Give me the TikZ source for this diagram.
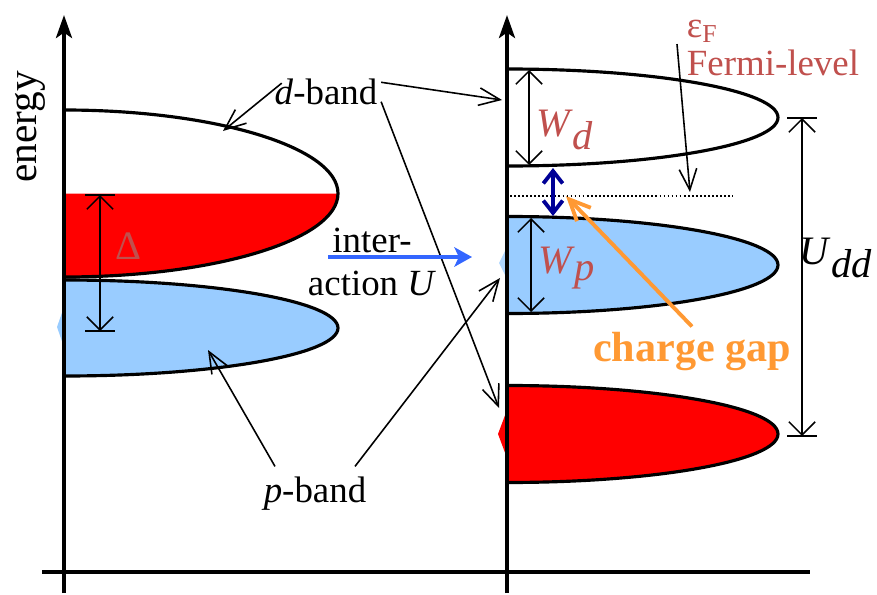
\documentclass[tikz,border=0pt]{standalone}
\usepackage{fontspec}
\setmainfont{Liberation Serif}
\usepackage{xcolor}
\usetikzlibrary{arrows.meta,calc,positioning}
\definecolor{bandred}{RGB}{255,0,0}
\definecolor{bandblue}{RGB}{153,204,255}
\definecolor{labelred}{RGB}{192,80,77}
\definecolor{interblue}{RGB}{51,102,255}
\definecolor{gaporange}{RGB}{255,153,51}
\definecolor{gapnavy}{RGB}{0,0,150}
\tikzset{
 bd axis/.style={line width=2.8pt,-{Stealth[length=13pt,width=9pt,inset=3pt]}},
 bd base/.style={line width=2.8pt},
 bd band/.style={line width=1.8pt},
 bd pointer/.style={line width=0.9pt,-{Straight Barb[length=12pt,width=10pt]}},
 bd width/.style={line width=0.9pt,{Straight Barb[length=7.5pt,width=15pt]}-{Straight Barb[length=7.5pt,width=15pt]}},
 bd bar/.style={line width=1.4pt},
 bd text/.style={font=\fontsize{21pt}{25pt}\selectfont,inner sep=2pt},
 bd sym/.style={font=\fontsize{23pt}{26pt}\selectfont,inner sep=0pt}
}

\begin{document}
\begin{tikzpicture}[x=0.02cm,y=-0.02cm]
 \useasboundingbox (0,0) rectangle (877,595);
 \coordinate (lbot) at (64,593);
 \coordinate (ltop) at (64,15);
 \coordinate (rbot) at (507,593);
 \coordinate (rtop) at (507,15);
 \coordinate (base0) at (42,572);
 \coordinate (base1) at (810,572);

 % left bands (before interaction)
 \draw[bd band,fill=bandblue] (64,280) arc[start angle=-90,end angle=90,x radius=274,y radius=48] -- cycle;
 \fill[bandred] (64,193.5) -- (338,193.5) arc[start angle=0,end angle=90,x radius=274,y radius=83.5] -- cycle;
 \draw[bd band] (64,110) arc[start angle=-90,end angle=90,x radius=274,y radius=83.5];
 \fill[bandblue] (64,307) -- (57,327) -- (64,347) -- cycle;

 % right bands (after interaction)
 \foreach \yc/\col in {117.5/white,265/bandblue,434/bandred}
  \draw[bd band,fill=\col] (507,\yc-48.5) arc[start angle=-90,end angle=90,x radius=271,y radius=48.5] -- cycle;
 \fill[bandblue!80] (507,247) -- (499,263) -- (507,279) -- cycle;
 \fill[bandred] (507,410) -- (498,434) -- (507,458) -- cycle;

 % axes
 \draw[bd axis] (lbot) -- (ltop);
 \draw[bd axis] (rbot) -- (rtop);
 \draw[bd base] (base0) -- (base1);

 % labels
 \node[bd text,rotate=90,font=\fontsize{23.5pt}{26pt}\selectfont] (energy) at (30,127) {energy};
 \node[bd text] (dband) at (326,92) {\textit{d}-band};
 \node[bd text] (pband) at (315,494) {\textit{p}-band};
 \node[bd text,align=center] (inter) at (372,262) {inter-\\action \textit{U}};
 \node[bd text,align=left,text=labelred,anchor=north west,font=\fontsize{21pt}{22pt}\selectfont] (fermi) at (683,16) {ε\textsubscript{F}\\Fermi-level};
 \node[bd sym,text=labelred] (delta) at (128,246) {Δ};
 \node[bd sym,text=labelred] (wd) at (565,130) {\textit{W}$_{\textit{d}}$};
 \node[bd sym,text=labelred] (wp) at (567,268) {\textit{W}$_{\textit{p}}$};
 \node[bd sym] (udd) at (836,258) {\textit{U}$_{\textit{dd}}$};
 \node[font=\bfseries\fontsize{24pt}{28pt}\selectfont,text=gaporange] (gap) at (692,352) {charge gap};

 % pointers from the labels
 \coordinate (ldtip) at (223,131);
 \coordinate (rdtip) at (502,100);
 \coordinate (rrtip) at (499,408);
 \coordinate (lptip) at (208,350);
 \coordinate (rptip) at (500,278);
 \coordinate (eftip) at (690,192);
 \coordinate (gaptip) at (566,196);
 \draw[bd pointer,shorten <=-8pt] (dband.west) -- (ldtip);
 \draw[bd pointer] (dband.10) -- (rdtip);
 \draw[bd pointer] (dband.-10) -- (rrtip);
 \draw[bd pointer] ($(pband.north)+(-40,-7)$) -- (lptip);
 \draw[bd pointer] ($(pband.north)+(40,-7)$) -- (rptip);
 \draw[bd pointer] ($(fermi.west)+(-6,-4)$) -- (eftip);
 \draw[gaporange,line width=2.2pt,-{Straight Barb[length=12pt,width=11pt]}] (gap.north) -- (gaptip);

 % interaction arrow
 \coordinate (ufrom) at (328,257);
 \coordinate (uto) at (472,257);
 \draw[interblue,line width=2.6pt,-{Stealth[length=10pt,width=11pt,inset=2.5pt]}] (ufrom) -- (uto);

 % Fermi level
 \coordinate (ef0) at (510,196);
 \coordinate (ef1) at (733,196);
 \draw[line width=1pt,dash pattern=on 1pt off 1.3pt] (ef0) -- (ef1);

 % widths and gaps
 \coordinate (dl0) at (100,195);
 \coordinate (dl1) at (100,331);
 \draw[bd width] (dl0) -- (dl1);
 \draw[bd bar] ($(dl0)+(-15,0)$) -- ($(dl0)+(15,0)$);
 \draw[bd bar] ($(dl1)+(-15,0)$) -- ($(dl1)+(15,0)$);
 \coordinate (wd0) at (529,70);
 \coordinate (wd1) at (529,165);
 \draw[bd width] (wd0) -- (wd1);
 \coordinate (wp0) at (531,218);
 \coordinate (wp1) at (531,312);
 \draw[bd width] (wp0) -- (wp1);
 \coordinate (ud0) at (802,118);
 \coordinate (ud1) at (802,436);
 \draw[bd width] (ud0) -- (ud1);
 \draw[bd bar] ($(ud0)+(-15,0)$) -- ($(ud0)+(15,0)$);
 \draw[bd bar] ($(ud1)+(-15,0)$) -- ($(ud1)+(15,0)$);
 \coordinate (cg0) at (553,168);
 \coordinate (cg1) at (553,216);
 \draw[gapnavy,line width=2.2pt,{Straight Barb[length=7pt,width=11pt]}-{Straight Barb[length=7pt,width=11pt]}] (cg0) -- (cg1);
\end{tikzpicture}
\end{document}
